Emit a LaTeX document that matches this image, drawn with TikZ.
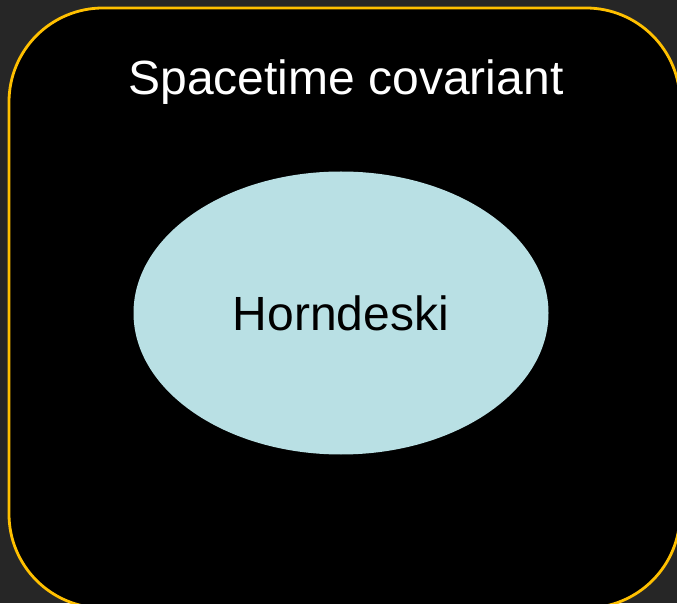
\documentclass[tikz,border=0pt]{standalone}
\usepackage{fontspec}
\setmainfont{Liberation Sans}
\usetikzlibrary{shapes.geometric}
\definecolor{pagebg}{HTML}{262626}
\definecolor{gold}{HTML}{FFC000}
\definecolor{paleblue}{HTML}{B9E0E4}
\tikzset{
  framebox/.style={draw=gold, line width=2.8pt, fill=black, rounded corners=94pt},
  innerset/.style={ellipse, fill=paleblue, minimum width=415pt, minimum height=283pt, inner sep=0pt},
  bigtext/.style={font=\fontsize{48}{57}\selectfont, inner sep=0pt}
}
\begin{document}
\begin{tikzpicture}[x=1pt,y=1pt]
  % page background
  \fill[pagebg] (0,0) rectangle (677,603);
  \useasboundingbox (0,0) rectangle (677,603);
  % outer rounded frame (runs past the lower and right edges)
  \begin{scope}
    \clip (0,0) rectangle (677,603);
    \draw[framebox] (9,-5) rectangle (680,595);
  \end{scope}
  \node[bigtext, text=white, anchor=base] (outer) at (346,508) {Spacetime covariant};
  \node[innerset] (horn) at (341,290) {};
  \node[bigtext, text=black, anchor=base] (hlabel) at (341,272) {Horndeski};
\end{tikzpicture}
\end{document}
